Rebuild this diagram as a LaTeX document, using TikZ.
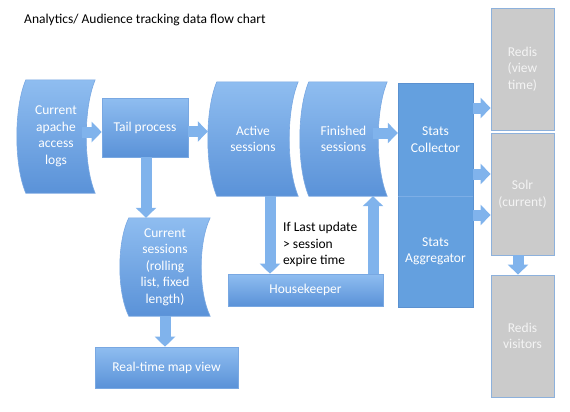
\documentclass[tikz,border=0pt]{standalone}
\usepackage{fontspec}
\setmainfont{Carlito}
\usetikzlibrary{arrows.meta,calc}
\pgfdeclarelayer{background}
\pgfsetlayers{background,main}
\definecolor{btop}{HTML}{8FBDF0}
\definecolor{bbot}{HTML}{5A92D8}
\definecolor{bedge}{HTML}{79A8E2}
\definecolor{statsc}{HTML}{64A0DF}
\definecolor{statsedge}{HTML}{5B91D0}
\definecolor{divc}{HTML}{7DAEE6}
\definecolor{grayc}{HTML}{CBCBCB}
\definecolor{grayedge}{HTML}{8DB1DC}
\definecolor{graytxt}{HTML}{F4F4F4}
\definecolor{acol}{HTML}{80B3EC}
\tikzset{
  txt/.style={text=white, font=\fontsize{13.5}{16.5}\selectfont, align=center, inner sep=0pt},
  bluebox/.style={txt, rectangle, draw=bedge, line width=0.6pt, top color=btop, bottom color=bbot},
  sdnode/.style={txt, rectangle},
  blueshape/.style={draw=bedge, line width=0.6pt, top color=btop, bottom color=bbot},
  statsbox/.style={txt, rectangle, fill=statsc},
  graybox/.style={txt, rectangle, text=graytxt, fill=grayc, draw=grayedge, line width=0.8pt},
  barrow/.style={draw=acol, line width=11pt, -{Triangle[width=20pt,length=10pt]}},
}
\newcommand\storedshape[2]{%
  \shadedraw[blueshape] ([xshift=#2pt]#1.north west) -- (#1.north east)
   .. controls ($(#1.north east)!0.25!(#1.south east)+(-1.33*#2pt,0)$) and ($(#1.north east)!0.75!(#1.south east)+(-1.33*#2pt,0)$) .. (#1.south east)
   -- ([xshift=#2pt]#1.south west)
   .. controls ($(#1.north west)!0.75!(#1.south west)+(-0.33*#2pt,0)$) and ($(#1.north west)!0.25!(#1.south west)+(-0.33*#2pt,0)$) .. ([xshift=#2pt]#1.north west) -- cycle;}
\begin{document}
\begin{tikzpicture}[x=1pt,y=-1pt]
\useasboundingbox (0,0) rectangle (570,412);
% title
\node[anchor=west, inner sep=0pt, font=\fontsize{13.5}{16}\selectfont] (title) at (24,20) {Analytics/ Audience tracking data flow chart};
% stored-data nodes
\node[sdnode, minimum width=78pt, minimum height=113pt] (logs) at (56,136.5) {Current\\apache\\access\\logs};
\node[sdnode, minimum width=90pt, minimum height=114pt] (active) at (253,139) {Active\\sessions};
\node[sdnode, minimum width=87pt, minimum height=114pt] (finished) at (343.5,139) {Finished\\sessions};
\node[sdnode, minimum width=90pt, minimum height=98pt] (current) at (165,267) {Current\\sessions\\(rolling\\list, fixed\\length)};
\begin{pgfonlayer}{background}
\storedshape{logs}{9}
\storedshape{active}{9}
\storedshape{finished}{9}
\storedshape{current}{9}
\end{pgfonlayer}
% process boxes
\node[bluebox, minimum width=86pt, minimum height=59pt] (tail) at (145,127.5) {Tail process};
\node[bluebox, minimum width=155pt, minimum height=32pt] (house) at (305.5,290) {Housekeeper};
\node[bluebox, minimum width=143pt, minimum height=41pt] (realtime) at (166.5,367.5) {Real-time map view};
% stats
\node[statsbox, minimum width=75pt, minimum height=113pt] (collector) at (435.5,139.5) {Stats\\Collector};
\node[statsbox, minimum width=75pt, minimum height=111pt] (aggregator) at (435.5,251.5) {Stats\\Aggregator};
\draw[statsedge, line width=0.5pt] (collector.north west) rectangle (aggregator.south east);
\draw[divc, line width=0.6pt] (collector.south west) -- (collector.south east);
% gray stores
\node[graybox, minimum width=63pt, minimum height=122pt] (redisv) at (522.5,69) {Redis\\(view\\time)};
\node[graybox, minimum width=63pt, minimum height=122pt] (solr) at (522.5,194) {Solr\\(current)};
\node[graybox, minimum width=63pt, minimum height=122pt] (redisvis) at (522.5,336) {Redis\\visitors};
% condition label
\node[anchor=west, align=left, inner sep=0pt, font=\fontsize{13.5}{16.5}\selectfont] (cond) at (283,244.5) {If Last update\\> session\\expire time};
% connectors
\coordinate (a1) at ([xshift=-13pt,yshift=4.5pt]logs.east);
\draw[barrow] (a1) -- (a1 -| tail.west);
\coordinate (a2) at ([yshift=-4pt]tail.east);
\draw[barrow] (a2) -- (a2 -| active.west);
\coordinate (a3) at ([xshift=-14pt,yshift=6pt]finished.east);
\draw[barrow] (a3) -- (a3 -| collector.west);
\coordinate (a4) at ([yshift=31.5pt]collector.east);
\draw[barrow] (a4) -- (a4 -| redisv.west);
\coordinate (a5) at ([yshift=-34.5pt]collector.east);
\draw[barrow] (a5) -- (a5 -| solr.west);
\coordinate (a6) at ([yshift=36.5pt]aggregator.east);
\draw[barrow] (a6) -- (a6 -| solr.west);
\coordinate (a7) at ([xshift=-4.5pt]solr.south);
\draw[barrow] (a7) -- (a7 |- redisvis.north);
\coordinate (a8) at ([xshift=17pt]active.south);
\draw[barrow] (a8) -- (a8 |- house.north);
\coordinate (a9) at ([xshift=67.5pt]house.north);
\draw[barrow] (a9) -- (a9 |- finished.south);
\coordinate (a10) at ([xshift=1pt]tail.south);
\draw[barrow] (a10) -- (a10 |- current.north);
\coordinate (a11) at (current.south);
\draw[barrow] (a11) -- (a11 |- realtime.north);
\end{tikzpicture}
\end{document}
